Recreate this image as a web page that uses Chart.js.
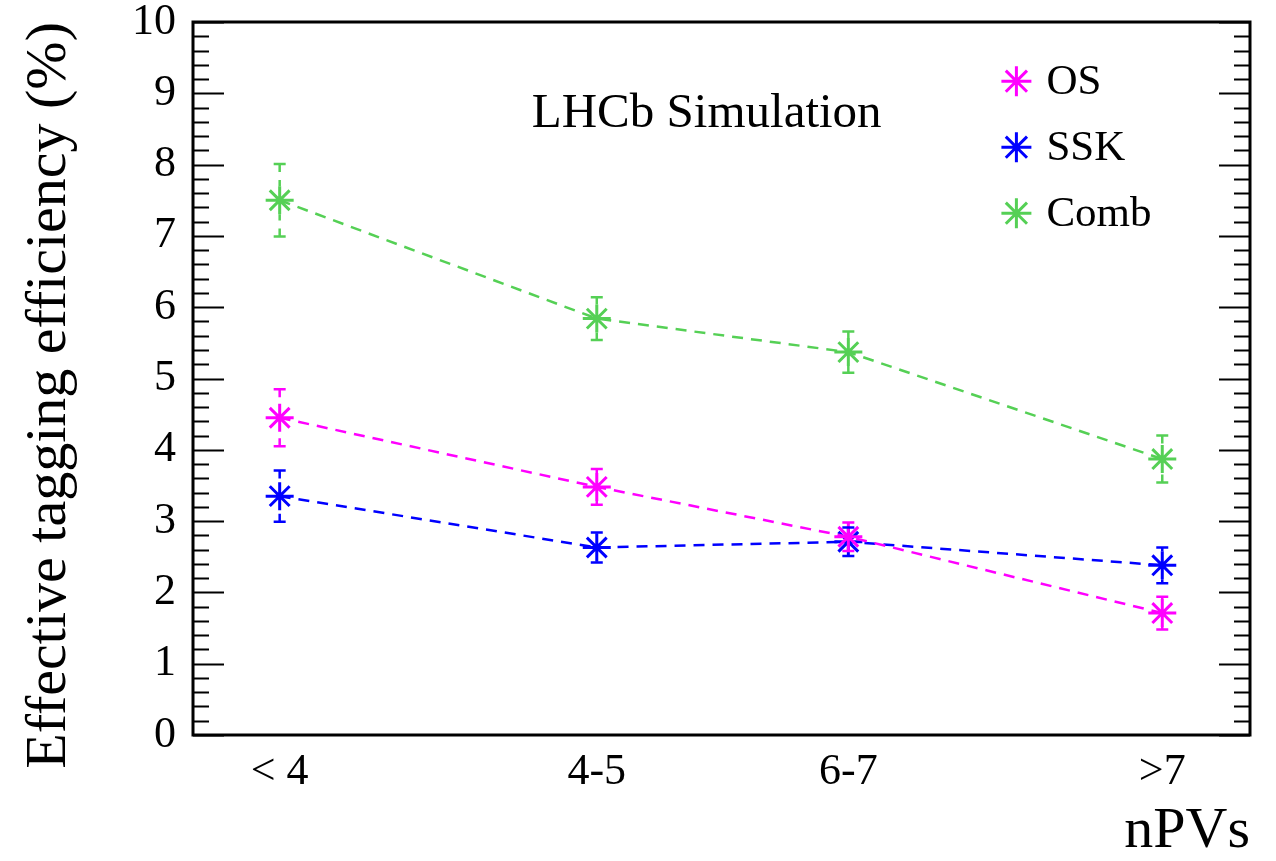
<!DOCTYPE html>
<html><head><meta charset="utf-8">
<script src="https://cdn.jsdelivr.net/npm/chart.js@4.4.1/dist/chart.umd.min.js"></script>
<style>html,body{margin:0;padding:0;background:#fff;}canvas{display:block;}</style>
</head><body>
<canvas id="c" width="1276" height="861"></canvas>
<script>
// ---- data ----
const categories = ['< 4', '4-5', '6-7', '>7'];
const binCentres = [0.82, 3.82, 6.2, 9.17];
const seriesNames = ['OS', 'SSK', 'Comb'];
const osValues = [4.45, 3.48, 2.78, 1.71];
const osErrors = [0.40, 0.25, 0.20, 0.23];
const sskValues = [3.35, 2.63, 2.71, 2.38];
const sskErrors = [0.36, 0.21, 0.20, 0.25];
const combValues = [7.50, 5.84, 5.37, 3.87];
const combErrors = [0.51, 0.30, 0.29, 0.33];
const yTickValues = [0, 1, 2, 3, 4, 5, 6, 7, 8, 9, 10];
const yTitle = 'Effective tagging efficiency (%)';
const xTitle = 'nPVs';
const plotLabel = 'LHCb Simulation';

const colors = ['#ff00ff', '#0000ff', '#55d055'];
const SERIF = "'Liberation Serif', 'DejaVu Serif', serif";

function makeSet(name, vals, errs, color) {
  return {
    label: name,
    data: binCentres.map((x, i) => ({x: x, y: vals[i]})),
    errors: errs,
    borderColor: color,
    backgroundColor: color,
    borderWidth: 2.5,
    borderDash: [11, 8],
    pointStyle: 'star',
    pointRadius: 14,
    pointHoverRadius: 14,
    pointBorderWidth: 3,
    pointBorderColor: color,
    fill: false,
    tension: 0
  };
}

function drawStar(ctx, x, y, r) {
  ctx.beginPath();
  for (let k = 0; k < 4; k++) {
    const a = k * Math.PI / 4;
    ctx.moveTo(x - r * Math.cos(a), y - r * Math.sin(a));
    ctx.lineTo(x + r * Math.cos(a), y + r * Math.sin(a));
  }
  ctx.stroke();
}

const errorBars = {
  id: 'errorBars',
  afterDatasetsDraw(chart) {
    const ctx = chart.ctx, ys = chart.scales.y;
    chart.data.datasets.forEach((ds, di) => {
      const meta = chart.getDatasetMeta(di);
      ctx.save();
      ctx.strokeStyle = ds.borderColor;
      ctx.lineWidth = 2.5;
      meta.data.forEach((pt, i) => {
        const v = ds.data[i].y, e = ds.errors[i];
        const yTop = ys.getPixelForValue(v + e), yBot = ys.getPixelForValue(v - e);
        const x = pt.x, gap = 14;
        ctx.setLineDash([8, 8]);
        ctx.beginPath();
        if (pt.y - gap > yTop) { ctx.moveTo(x, yTop); ctx.lineTo(x, pt.y - gap); }
        if (pt.y + gap < yBot) { ctx.moveTo(x, yBot); ctx.lineTo(x, pt.y + gap); }
        ctx.stroke();
        ctx.setLineDash([]);
        ctx.beginPath();
        ctx.moveTo(x - 6, yTop); ctx.lineTo(x + 6, yTop);
        ctx.moveTo(x - 6, yBot); ctx.lineTo(x + 6, yBot);
        ctx.stroke();
      });
      ctx.restore();
    });
  }
};

const frameAndTicks = {
  id: 'frameAndTicks',
  afterDraw(chart) {
    const ctx = chart.ctx, a = chart.chartArea, ys = chart.scales.y;
    ctx.save();
    ctx.strokeStyle = '#000';
    ctx.lineWidth = 2;
    ctx.beginPath();
    const nMinor = (yTickValues[yTickValues.length - 1] - yTickValues[0]) * 5;
    for (let k = 0; k <= nMinor; k++) {
      const v = yTickValues[0] + k / 5;
      const py = Math.round(ys.getPixelForValue(v)) + 0.5;
      const len = (k % 5 === 0) ? 31 : 16;
      ctx.moveTo(a.left, py); ctx.lineTo(a.left + len, py);
      ctx.moveTo(a.right, py); ctx.lineTo(a.right - len, py);
    }
    ctx.stroke();
    ctx.lineWidth = 3;
    ctx.strokeRect(a.left, a.top, a.right - a.left, a.bottom - a.top);
    ctx.restore();
  }
};

const annotations = {
  id: 'annotations',
  afterDraw(chart) {
    const ctx = chart.ctx, a = chart.chartArea;
    const w = a.right - a.left, h = a.bottom - a.top;
    ctx.save();
    ctx.fillStyle = '#000';
    ctx.font = '49px ' + SERIF;
    ctx.textAlign = 'center';
    ctx.textBaseline = 'alphabetic';
    ctx.fillText(plotLabel, a.left + 0.486 * w, a.top + 0.147 * h);
    // legend
    ctx.font = '43px ' + SERIF;
    ctx.textAlign = 'left';
    ctx.textBaseline = 'middle';
    chart.data.datasets.forEach((ds, i) => {
      const y = a.top + 0.083 * h + i * 66;
      const mx = a.left + 0.779 * w;
      ctx.strokeStyle = ds.borderColor;
      ctx.lineWidth = 3;
      drawStar(ctx, mx, y, 15);
      ctx.fillStyle = '#000';
      ctx.fillText(ds.label, mx + 30, y + 2);
    });
    ctx.restore();
  }
};

new Chart(document.getElementById('c'), {
  type: 'line',
  data: {
    datasets: [
      makeSet(seriesNames[0], osValues, osErrors, colors[0]),
      makeSet(seriesNames[1], sskValues, sskErrors, colors[1]),
      makeSet(seriesNames[2], combValues, combErrors, colors[2])
    ]
  },
  options: {
    responsive: false,
    animation: false,
    devicePixelRatio: 1,
    layout: {padding: {top: 22, right: 26, left: 0, bottom: 0}},
    plugins: {legend: {display: false}, tooltip: {enabled: false}},
    scales: {
      x: {
        type: 'linear', min: 0, max: 10,
        grid: {display: false, drawTicks: false, tickLength: 0},
        border: {display: false},
        afterBuildTicks: (s) => { s.ticks = binCentres.map(v => ({value: v})); },
        afterFit: (s) => { s.height = 126; s.paddingLeft = 0; s.paddingRight = 0; },
        ticks: {
          autoSkip: false, maxRotation: 0, padding: 11, color: '#000',
          font: {family: SERIF, size: 44},
          callback: (v) => { const i = binCentres.indexOf(v); return i >= 0 ? categories[i] : ''; }
        },
        title: {display: true, text: xTitle, align: 'end', color: '#000',
                font: {family: SERIF, size: 58}, padding: {top: 0, bottom: -6}}
      },
      y: {
        type: 'linear', min: 0, max: 10,
        grid: {display: false, drawTicks: false, tickLength: 0},
        border: {display: false},
        afterBuildTicks: (s) => { s.ticks = yTickValues.map(v => ({value: v})); },
        afterFit: (s) => { s.width = 193; s.paddingTop = 0; s.paddingBottom = 0; },
        ticks: {padding: 17, color: '#000', font: {family: SERIF, size: 44}},
        title: {display: true, text: yTitle, align: 'end', color: '#000',
                font: {family: SERIF, size: 58}, padding: {top: 15, bottom: 0}}
      }
    }
  },
  plugins: [errorBars, frameAndTicks, annotations]
});
</script>
</body></html>
